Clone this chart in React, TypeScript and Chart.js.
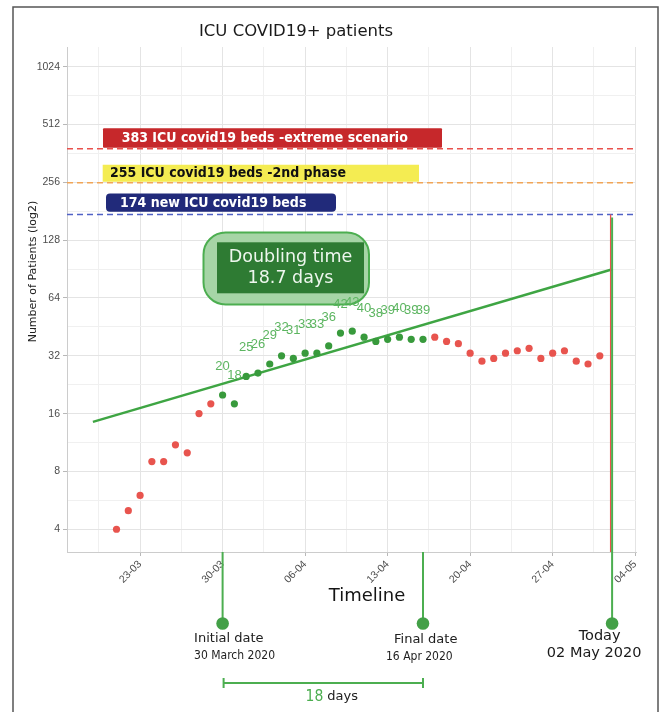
import React, { useEffect, useRef } from 'react';
import { Chart, registerables } from 'chart.js';

Chart.register(...registerables);

// ---------------- data ----------------
const firstDate = '2020-03-21';
const patients = [
  4, 5, 6, 9, 9, 11, 10, 16, 18, 20, 18, 25, 26, 29, 32, 31, 33, 33, 36, 42, 43,
  40, 38, 39, 40, 39, 39, 40, 38, 37, 33, 30, 31, 33, 34, 35, 31, 33, 34, 30, 29, 32,
];
const windowStart = '2020-03-30';
const windowEnd = '2020-04-16';
const todayDate = '2020-05-02';
const doublingTime = 18.7;
const trendDates = ['2020-03-19', '2020-05-02'];
const trendValues = [14.5, 90];
const capacityValues = [383, 255, 174];
const capacityLabels = [
  '383 ICU covid19 beds -extreme scenario',
  '255 ICU covid19 beds -2nd phase',
  '174 new ICU covid19 beds',
];
const yTickValues = [4, 8, 16, 32, 64, 128, 256, 512, 1024];
const xTickLabels = ['23-03', '30-03', '06-04', '13-04', '20-04', '27-04', '04-05'];
const xLimits = ['2020-03-16', '2020-05-04'];
const xLimitOffsets = [0.8, 0.07];
const yLimits = [3.046, 1296];
const titleText = 'ICU COVID19+ patients';
const yTitleText = 'Number of Patients (log2)';
const xTitleText = 'Timeline';
const initialLabel = ['Initial date', '30 March 2020'];
const finalLabel = ['Final date', '16 Apr 2020'];
const todayLabel = ['Today', '02 May 2020'];

// ---------------- helpers ----------------
const MS = 86400000;
const BASE = Date.UTC(2020, 2, 1);
function dayOf(iso: string): number {
  const [y, m, d] = iso.split('-').map(Number);
  return (Date.UTC(y, m - 1, d) - BASE) / MS;
}
function dayOfLabel(lbl: string): number {
  const [d, m] = lbl.split('-').map(Number);
  return (Date.UTC(2020, m - 1, d) - BASE) / MS;
}

const X_MIN = dayOf(xLimits[0]) + xLimitOffsets[0];
const X_MAX = dayOf(xLimits[1]) + xLimitOffsets[1];
const startDay = dayOf(firstDate);
const wStart = dayOf(windowStart);
const wEnd = dayOf(windowEnd);

const points = patients.map((v, i) => ({ x: startDay + i, y: v }));
const inWindow = (x: number) => x >= wStart && x <= wEnd;

const GREEN_PT = '#389a3c';
const RED_PT = '#e8544e';
const GREEN_LINE = '#3ea543';
const GREEN_LABEL = '#5cb560';
const capColors = ['#e9514d', '#f2a556', '#5062c6'];
const boxFills = ['#c6282b', '#f4ec52', '#212a7a'];
const boxText = ['#ffffff', '#111111', '#ffffff'];

const majorXTicks = xTickLabels.map(dayOfLabel);
const minorXTicks: number[] = [];
[majorXTicks[0] - 3.5, ...majorXTicks.map((v) => v + 3.5)].forEach((v) => {
  if (v >= X_MIN && v <= X_MAX) minorXTicks.push(v);
});
const minorYTicks = yTickValues.map((v) => v * Math.SQRT2).filter((v) => v >= yLimits[0] && v <= yLimits[1]);

function txt(
  ctx: CanvasRenderingContext2D,
  s: string,
  x: number,
  y: number,
  font: string,
  color: string,
  align: CanvasTextAlign = 'left'
) {
  ctx.font = font;
  ctx.fillStyle = color;
  ctx.textAlign = align;
  ctx.textBaseline = 'middle';
  ctx.fillText(s, x, y);
}

const COND = "'DejaVu Sans Condensed', 'DejaVu Sans', sans-serif";
const DV = "'DejaVu Sans', sans-serif";
const ARIAL = "'Liberation Sans', Arial, sans-serif";

const overlay = {
  id: 'overlay',
  beforeDraw(chart: any) {
    const { ctx, width, height } = chart;
    ctx.save();
    ctx.fillStyle = '#ffffff';
    ctx.fillRect(0, 0, width, height);
    ctx.strokeStyle = '#555555';
    ctx.lineWidth = 1.5;
    ctx.strokeRect(13, 7, 645, height + 20);
    ctx.restore();
  },
  afterDraw(chart: any) {
    const { ctx, chartArea } = chart;
    const xs = chart.scales.x;
    const ys = chart.scales.y;
    ctx.save();

    // title
    txt(ctx, titleText, 296, 32, `16.5px ${DV}`, '#1a1a1a', 'center');
    // y title
    ctx.save();
    ctx.translate(33, 271.5);
    ctx.rotate(-Math.PI / 2);
    txt(ctx, yTitleText, 0, 0, `11px ${DV}`, '#222222', 'center');
    ctx.restore();
    // x title
    txt(ctx, xTitleText, 367, 596, `18px ${DV}`, '#151515', 'center');

    // capacity label boxes
    const boxGeo = [
      { left: 103, width: 339, h: 19.5, gap: 1, textX: 121.7, r: 1 },
      { left: 102.7, width: 316.3, h: 17, gap: 1, textX: 110, r: 0 },
      { left: 106, width: 230, h: 18.3, gap: 2.7, textX: 120, r: 4 },
    ];
    capacityValues.forEach((v, i) => {
      const g = boxGeo[i];
      const yl = ys.getPixelForValue(v);
      const bottom = yl - g.gap;
      const top = bottom - g.h;
      ctx.fillStyle = boxFills[i];
      ctx.beginPath();
      ctx.roundRect(g.left, top, g.width, g.h, g.r);
      ctx.fill();
      txt(ctx, capacityLabels[i], g.textX, top + g.h / 2 + 0.5, `bold 14px ${COND}`, boxText[i]);
    });

    // doubling time box
    ctx.beginPath();
    ctx.roundRect(203.5, 232.5, 165.5, 72, 22);
    ctx.fillStyle = '#a6d5a6';
    ctx.fill();
    ctx.strokeStyle = '#4cae50';
    ctx.lineWidth = 2;
    ctx.stroke();
    ctx.fillStyle = '#2e7b33';
    ctx.fillRect(217, 242.3, 147, 51);
    txt(ctx, 'Doubling time', 290.5, 257, `17.5px ${DV}`, '#eef7ee', 'center');
    txt(ctx, `${doublingTime} days`, 290.5, 278.5, `17.5px ${DV}`, '#eef7ee', 'center');

    // point value labels (doubling window)
    points.forEach((p) => {
      if (!inWindow(p.x)) return;
      const px = xs.getPixelForValue(p.x);
      const py = ys.getPixelForValue(p.y);
      txt(ctx, String(p.y), px, py - 28.5, `13px ${ARIAL}`, GREEN_LABEL, 'center');
    });

    // today vertical lines
    const xT = xs.getPixelForValue(dayOf(todayDate));
    const yTop = ys.getPixelForValue(capacityValues[2]);
    ctx.strokeStyle = RED_PT;
    ctx.lineWidth = 1.3;
    ctx.beginPath();
    ctx.moveTo(xT - 1, yTop);
    ctx.lineTo(xT - 1, chartArea.bottom);
    ctx.stroke();
    ctx.strokeStyle = '#4cae50';
    ctx.lineWidth = 2;
    ctx.beginPath();
    ctx.moveTo(xT + 0.5, yTop + 3);
    ctx.lineTo(xT + 0.5, 623);
    ctx.stroke();

    // initial / final lines
    const xI = xs.getPixelForValue(wStart);
    const xF = xs.getPixelForValue(wEnd);
    [xI, xF].forEach((x) => {
      ctx.beginPath();
      ctx.moveTo(x, chartArea.bottom);
      ctx.lineTo(x, 624);
      ctx.stroke();
    });
    ctx.fillStyle = '#43a047';
    [xI, xF, xT + 0.5].forEach((x) => {
      ctx.beginPath();
      ctx.arc(x, 623.5, 6.3, 0, Math.PI * 2);
      ctx.fill();
    });

    // labels under markers
    txt(ctx, initialLabel[0], xI - 28.5, 639, `13px ${DV}`, '#202020');
    txt(ctx, initialLabel[1], xI - 28.5, 656, `12px ${COND}`, '#1e1e1e');
    txt(ctx, finalLabel[0], xF - 29, 640, `13px ${DV}`, '#202020');
    txt(ctx, finalLabel[1], xF - 37, 657, `12px ${COND}`, '#1e1e1e');
    txt(ctx, todayLabel[0], xT - 12, 636, `14.5px ${DV}`, '#1a1a1a', 'center');
    txt(ctx, todayLabel[1], xT - 17.5, 653.5, `14.5px ${DV}`, '#1a1a1a', 'center');

    // bracket
    ctx.strokeStyle = '#4cae50';
    ctx.lineWidth = 2;
    ctx.beginPath();
    ctx.moveTo(xI + 1, 683);
    ctx.lineTo(xF, 683);
    ctx.moveTo(xI + 1, 678);
    ctx.lineTo(xI + 1, 688);
    ctx.moveTo(xF, 678);
    ctx.lineTo(xF, 688);
    ctx.stroke();
    const nDays = Math.round(wEnd - wStart) + 1;
    const midX = (xI + xF) / 2;
    txt(ctx, String(nDays), midX + 0.5, 697, `15.5px ${COND}`, '#4cae50', 'right');
    txt(ctx, 'days', midX + 4.5, 697, `13px ${DV}`, '#202020');

    ctx.restore();
  },
};

export default function App() {
  const ref = useRef<HTMLCanvasElement | null>(null);
  useEffect(() => {
    if (!ref.current) return;
    const chart = new Chart(ref.current, {
      type: 'scatter',
      data: {
        datasets: [
          {
            type: 'scatter',
            data: points,
            pointRadius: 3.6,
            pointBorderWidth: 0,
            pointBackgroundColor: points.map((p) => (inWindow(p.x) ? GREEN_PT : RED_PT)),
          } as any,
          {
            type: 'line',
            data: trendDates.map((d, i) => ({ x: dayOf(d), y: trendValues[i] })),
            borderColor: GREEN_LINE,
            borderWidth: 2.5,
            pointRadius: 0,
            fill: false,
          } as any,
          ...capacityValues.map(
            (v, i) =>
              ({
                type: 'line',
                data: [
                  { x: X_MIN, y: v },
                  { x: X_MAX, y: v },
                ],
                borderColor: capColors[i],
                borderWidth: 1.5,
                borderDash: [6, 4],
                pointRadius: 0,
                fill: false,
              } as any)
          ),
        ],
      },
      options: {
        animation: false,
        responsive: false,
        maintainAspectRatio: false,
        devicePixelRatio: 1,
        layout: { padding: { left: 0, top: 47, right: 23, bottom: 120 } },
        plugins: { legend: { display: false }, tooltip: { enabled: false }, title: { display: false } },
        scales: {
          x: {
            type: 'linear',
            min: X_MIN,
            max: X_MAX,
            bounds: 'data',
            afterBuildTicks: (scale: any) => {
              scale.ticks = [
                ...minorXTicks.map((v) => ({ value: v, minor: true })),
                ...majorXTicks.map((v) => ({ value: v, minor: false })),
              ].sort((a, b) => a.value - b.value);
            },
            afterFit: (scale: any) => {
              scale.height = 40;
              scale.paddingLeft = 0;
              scale.paddingRight = 0;
            },
            ticks: {
              autoSkip: false,
              minRotation: 45,
              maxRotation: 45,
              padding: 2,
              color: '#4d4d4d',
              font: { family: 'Liberation Sans', size: 10.5 },
              callback: (value: any) => {
                const idx = majorXTicks.indexOf(Number(value));
                return idx >= 0 ? xTickLabels[idx] : '';
              },
            },
            grid: {
              color: (c: any) => (c.tick && c.tick.minor ? '#f0f0f0' : '#e4e4e4'),
              lineWidth: 1,
              tickLength: 4,
              tickColor: (c: any) => (c.tick && c.tick.minor ? 'rgba(0,0,0,0)' : '#b8b8b8'),
            },
            border: { display: true, color: '#cccccc', width: 1 },
          },
          y: {
            type: 'logarithmic',
            min: yLimits[0],
            max: yLimits[1],
            bounds: 'data',
            afterBuildTicks: (scale: any) => {
              scale.ticks = [
                ...minorYTicks.map((v) => ({ value: v, minor: true })),
                ...yTickValues.map((v) => ({ value: v, minor: false })),
              ].sort((a, b) => a.value - b.value);
            },
            afterFit: (scale: any) => {
              scale.width = 67;
              scale.paddingTop = 0;
              scale.paddingBottom = 0;
            },
            ticks: {
              autoSkip: false,
              padding: 3,
              color: '#4d4d4d',
              font: { family: 'Liberation Sans', size: 10.5 },
              callback: (value: any) => (yTickValues.includes(Number(value)) ? String(value) : ''),
            },
            grid: {
              color: (c: any) => (c.tick && c.tick.minor ? '#f0f0f0' : '#e4e4e4'),
              lineWidth: 1,
              tickLength: 4,
              tickColor: (c: any) => (c.tick && c.tick.minor ? 'rgba(0,0,0,0)' : '#b8b8b8'),
            },
            border: { display: true, color: '#cccccc', width: 1 },
          },
        },
      },
      plugins: [overlay],
    } as any);
    return () => chart.destroy();
  }, []);

  return (
    <div style={{ position: 'absolute', left: 0, top: 0, width: 659, height: 712 }}>
      <canvas ref={ref} width={659} height={712} style={{ display: 'block' }} />
    </div>
  );
}
